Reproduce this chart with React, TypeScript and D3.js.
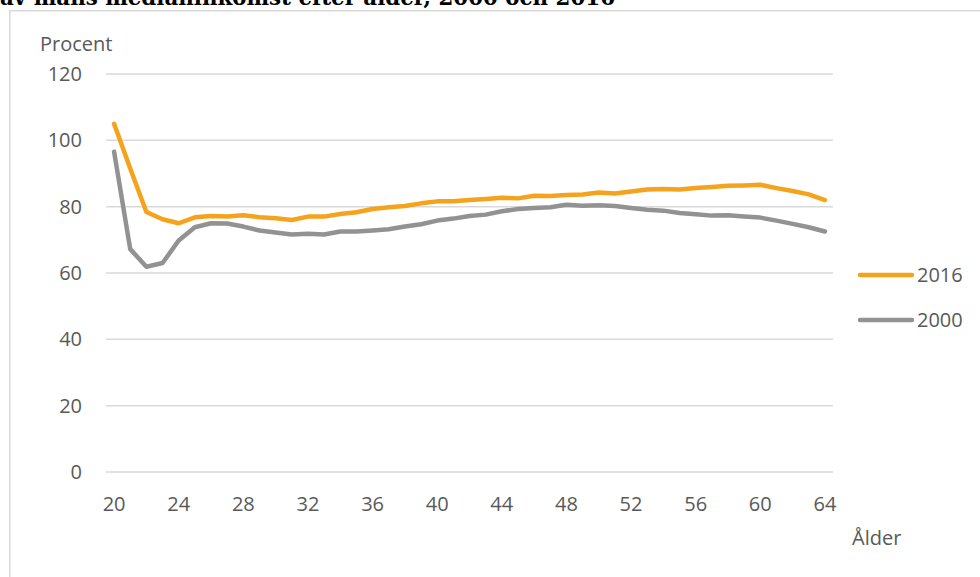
import React from "react";
import * as d3 from "d3";

const ages: number[] = [
  20, 21, 22, 23, 24, 25, 26, 27, 28, 29, 30, 31, 32, 33, 34, 35, 36, 37, 38, 39, 40, 41, 42,
  43, 44, 45, 46, 47, 48, 49, 50, 51, 52, 53, 54, 55, 56, 57, 58, 59, 60, 61, 62, 63, 64,
];

const values2016: number[] = [
  105, 91.5, 78.4, 76.2, 75.0, 76.8, 77.2, 77.0, 77.4, 76.8, 76.5, 76.0, 77.0, 77.0, 77.8,
  78.3, 79.3, 79.8, 80.2, 81.0, 81.6, 81.6, 82.0, 82.3, 82.7, 82.5, 83.3, 83.2, 83.5, 83.7,
  84.3, 84.0, 84.6, 85.2, 85.3, 85.2, 85.6, 85.9, 86.3, 86.4, 86.6, 85.6, 84.7, 83.7, 82.0,
];

const values2000: number[] = [
  96.6, 67.2, 61.9, 63.0, 69.8, 73.8, 75.0, 74.9, 74.0, 72.8, 72.2, 71.6, 71.8, 71.6, 72.5,
  72.5, 72.8, 73.2, 74.0, 74.7, 75.8, 76.4, 77.2, 77.6, 78.6, 79.3, 79.6, 79.8, 80.6, 80.3,
  80.4, 80.2, 79.6, 79.1, 78.8, 78.1, 77.7, 77.3, 77.4, 77.0, 76.7, 75.8, 74.8, 73.8, 72.5,
];

const yTicks: number[] = [0, 20, 40, 60, 80, 100, 120];
const xTickLabels: number[] = [20, 24, 28, 32, 36, 40, 44, 48, 52, 56, 60, 64];

const seriesNames: string[] = ["2016", "2000"];
const seriesColors: string[] = ["#F5A31C", "#929292"];

const titleText = "av mäns medianinkomst efter ålder, 2000 och 2016";
const yAxisTitle = "Procent";
const xAxisTitle = "Ålder";

export default function App() {
  const W = 980;
  const H = 577;
  const plotLeft = 106;
  const plotRight = 833;
  const plotTop = 74;
  const plotBottom = 472;

  const x = d3
    .scaleBand<number>()
    .domain(ages)
    .range([plotLeft, plotRight]);
  const cx = (a: number) => (x(a) as number) + x.bandwidth() / 2;
  const y = d3.scaleLinear().domain([0, 120]).range([plotBottom, plotTop]);

  const line = d3
    .line<number>()
    .x((_, i) => cx(ages[i]))
    .y((d) => y(d));

  const allSeries = [values2016, values2000];
  const font = "'Open Sans', sans-serif";
  const textColor = "#595959";

  return (
    <svg
      width={W}
      height={H}
      style={{ position: "absolute", left: 0, top: 0, background: "#fff" }}
    >
      <text
        x={0}
        y={5}
        fontFamily="'DejaVu Serif', serif"
        fontWeight="bold"
        fontSize={22}
        textLength={615}
        lengthAdjust="spacingAndGlyphs"
        fill="#000"
      >
        {titleText}
      </text>
      <rect
        x={9.75}
        y={10.75}
        width={1000}
        height={600}
        fill="#fff"
        stroke="#D9D9D9"
        strokeWidth={1.5}
      />
      {yTicks.map((t) => (
        <g key={t}>
          <line
            x1={plotLeft}
            x2={plotRight}
            y1={y(t)}
            y2={y(t)}
            stroke="#D9D9D9"
            strokeWidth={1.5}
          />
          <text
            x={82}
            y={y(t)}
            dy="0.35em"
            textAnchor="end"
            fontFamily={font}
            fontSize={20}
            fill={textColor}
          >
            {t}
          </text>
        </g>
      ))}
      {xTickLabels.map((a) => (
        <text
          key={a}
          x={cx(a)}
          y={504}
          dy="0.35em"
          textAnchor="middle"
          fontFamily={font}
          fontSize={20}
          fill={textColor}
        >
          {a}
        </text>
      ))}
      <text x={40} y={44} dy="0.35em" fontFamily={font} fontSize={20} fill={textColor}>
        {yAxisTitle}
      </text>
      <text x={852} y={538} dy="0.35em" fontFamily={font} fontSize={20} fill={textColor}>
        {xAxisTitle}
      </text>
      {allSeries.map((s, i) => (
        <path
          key={seriesNames[i]}
          d={line(s) || ""}
          fill="none"
          stroke={seriesColors[i]}
          strokeWidth={4.5}
          strokeLinejoin="round"
          strokeLinecap="round"
        />
      ))}
      {seriesNames.map((n, i) => (
        <g key={n}>
          <line
            x1={860}
            x2={912}
            y1={275 + i * 45}
            y2={275 + i * 45}
            stroke={seriesColors[i]}
            strokeWidth={4.5}
            strokeLinecap="round"
          />
          <text
            x={917}
            y={275 + i * 45}
            dy="0.35em"
            fontFamily={font}
            fontSize={20}
            fill={textColor}
          >
            {n}
          </text>
        </g>
      ))}
    </svg>
  );
}
